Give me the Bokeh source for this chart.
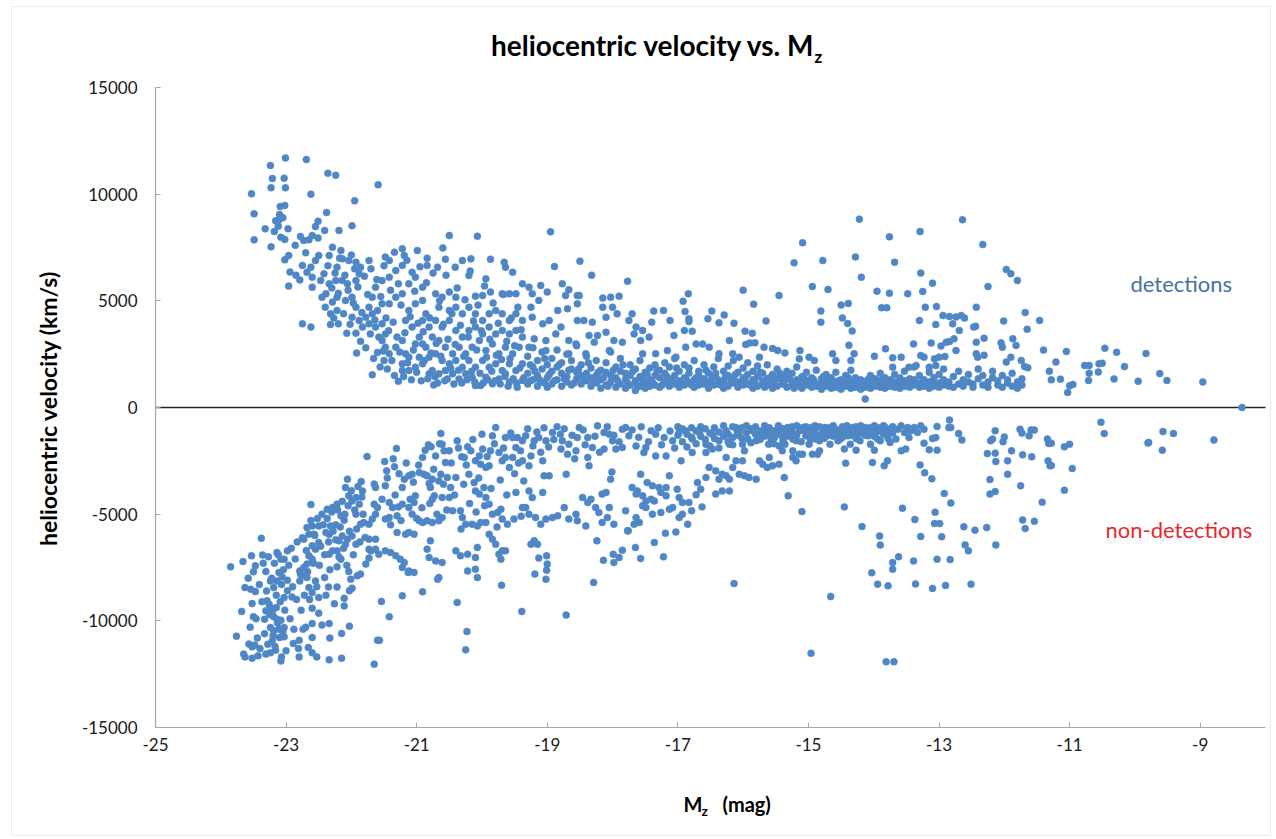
from math import pi
from bokeh.plotting import figure
from bokeh.models import Range1d, Label, FixedTicker, BoxAnnotation
from bokeh.embed import file_html
from bokeh.resources import INLINE

# ---------------- data (M_z [mag], heliocentric velocity [km/s]) ----------------
# detections (positive velocities)
det_bright = [
    (-23.53, 10016), (-23.49, 9078), (-23.49, 7860), (-23.32, 8375), (-23.24, 11344), (-23.21, 10735),
    (-23.23, 10300), (-23.23, 7530), (-23.18, 8250), (-23.16, 8750), (-23.11, 8800), (-23.10, 9050),
    (-23.09, 9420), (-23.03, 10750), (-23.01, 10300), (-23.01, 11700), (-23.08, 7980), (-23.02, 7880),
    (-23.02, 9470), (-23.05, 8900), (-23.12, 8500), (-22.97, 8380), (-23.02, 6920), (-22.96, 7125),
    (-22.94, 6350), (-22.96, 5690), (-22.86, 7600), (-22.69, 11625), (-22.62, 10000), (-22.36, 10985),
    (-22.24, 10890), (-21.59, 10438), (-21.95, 9688), (-22.38, 9140), (-22.51, 8730), (-22.55, 8480),
    (-22.41, 8300), (-22.19, 8300), (-21.99, 8516), (-22.73, 7830), (-22.78, 8020), (-22.65, 7860),
    (-22.60, 8060), (-22.51, 7950), (-22.75, 6660), (-22.68, 6340), (-22.62, 6580), (-22.79, 5980),
    (-22.60, 5640), (-22.55, 6890), (-22.50, 7120), (-22.42, 6270), (-22.47, 5950), (-22.60, 6110),
    (-22.75, 3920), (-22.62, 3770), (-22.32, 3890), (-22.20, 3920), (-22.85, 6200), (-22.70, 7250),
]
det_bright2 = [
    (-22.34, 7125), (-22.29, 7516), (-22.16, 7360), (-22.14, 6970), (-22.22, 6580), (-22.04, 6890),
    (-21.93, 6810), (-21.86, 6580), (-21.73, 6890), (-21.88, 6270), (-21.93, 5950), (-22.06, 5800),
    (-22.14, 5950), (-22.24, 5950), (-22.34, 5800), (-22.39, 5330), (-22.45, 5170), (-22.29, 4940),
    (-22.22, 5170), (-22.32, 4390), (-22.22, 4550), (-22.09, 5020), (-21.99, 5170), (-21.93, 4700),
    (-21.99, 4230), (-21.88, 4080), (-21.78, 4230), (-21.73, 4700), (-21.68, 5170), (-21.63, 5640),
    (-21.53, 5950), (-21.42, 6110), (-21.32, 6420), (-21.42, 6890), (-21.48, 7050), (-21.34, 7280),
    (-21.22, 7440), (-21.19, 7125), (-21.22, 6660), (-21.07, 6340), (-20.99, 7360), (-21.02, 6110),
    (-20.91, 5640), (-21.12, 5800), (-21.22, 5330), (-21.32, 5170), (-21.42, 4860), (-21.53, 4860),
    (-21.60, 4550), (-21.68, 4390), (-21.73, 3920), (-21.83, 3770), (-21.93, 3485), (-22.07, 3485),
    (-21.63, 3770), (-21.53, 3920), (-21.48, 3450), (-21.53, 3140), (-21.48, 2830), (-21.60, 2580),
    (-21.50, 2200), (-21.42, 2520), (-21.32, 2830), (-21.22, 3140), (-21.17, 2520), (-21.22, 2050),
    (-21.12, 2360), (-21.02, 2980), (-20.96, 3300), (-21.07, 3770), (-21.17, 4080), (-21.12, 4550),
    (-21.02, 4860), (-20.91, 5020), (-20.86, 4390), (-20.91, 4080), (-20.81, 3770), (-20.76, 3300),
    (-20.86, 2830), (-20.96, 2360), (-20.91, 2050), (-21.02, 1890), (-21.12, 1730), (-21.22, 1730),
    (-21.28, 1230), (-21.68, 1530), (-21.92, 2550), (-20.91, 2980),
]
det_mid = [
    (-20.50, 8060), (-20.07, 8030), (-20.60, 7480), (-20.84, 7000), (-20.84, 6660), (-20.56, 6950),
    (-20.68, 6580), (-20.41, 6580), (-20.30, 6890), (-20.17, 6970), (-20.20, 6190), (-19.94, 6030),
    (-19.87, 6950), (-19.66, 6810), (-19.64, 6580), (-19.53, 6340), (-19.38, 5800), (-20.10, 5220),
    (-19.99, 5250), (-19.87, 5410), (-19.69, 5330), (-19.58, 5330), (-19.48, 5330), (-20.71, 5330),
    (-20.61, 5170), (-20.50, 5410), (-20.40, 5170), (-20.66, 4700), (-20.50, 4550), (-20.40, 4700),
    (-20.30, 4390), (-20.20, 4700), (-20.10, 4390), (-19.99, 4080), (-19.89, 4390), (-19.79, 4550),
    (-19.69, 4390), (-19.58, 4080), (-19.48, 4390), (-19.38, 4080), (-20.71, 4080), (-20.61, 3770),
    (-20.50, 4080), (-20.40, 3610), (-20.30, 3300), (-20.20, 3610), (-20.10, 3770), (-19.99, 3450),
    (-19.89, 3770), (-19.79, 3450), (-19.69, 3610), (-19.58, 3450), (-19.48, 3610), (-19.38, 3300),
    (-20.66, 3140), (-20.56, 2830), (-20.45, 2520), (-20.35, 2830), (-20.25, 2520), (-20.15, 2830),
    (-20.04, 3140), (-19.94, 2670), (-19.84, 2980), (-19.74, 2520), (-19.64, 2830), (-19.53, 2520),
    (-19.43, 2830), (-20.71, 2520), (-20.61, 2200), (-20.50, 2050), (-20.40, 2200), (-20.30, 1890),
    (-20.20, 2200), (-20.10, 1890), (-19.99, 2200), (-19.89, 1890), (-19.79, 2050), (-19.69, 1730),
    (-19.58, 2050), (-19.48, 1730), (-19.38, 2050), (-20.81, 2360), (-20.76, 1730), (-20.66, 1580),
    (-20.56, 1730), (-20.53, 1340), (-20.45, 1580), (-20.35, 1340), (-20.25, 1580), (-20.15, 1420),
    (-20.10, 1030), (-20.02, 1030), (-19.94, 1420), (-19.84, 1110), (-19.74, 1340), (-19.64, 1580),
    (-19.58, 1190), (-19.46, 950), (-19.38, 1270), (-20.74, 1060), (-20.81, 1580),
]
det_mid2 = [
    (-22.40, 4700), (-22.36, 6650), (-22.30, 5600), (-22.27, 4200), (-22.25, 6300), (-22.20, 5350),
    (-22.18, 7000), (-22.12, 4400), (-22.10, 6200), (-22.05, 5500), (-22.02, 3900), (-22.00, 7150),
    (-21.97, 4900), (-21.95, 6500), (-21.90, 5650), (-21.86, 3100), (-21.84, 4450), (-21.80, 6150),
    (-21.78, 2800), (-21.75, 5300), (-21.71, 3450), (-21.70, 6500), (-21.66, 2300), (-21.64, 4100),
    (-21.61, 6000), (-21.58, 3300), (-21.56, 1900), (-21.55, 5200), (-21.51, 2650), (-21.50, 6650),
    (-21.47, 4200), (-21.45, 1800), (-21.43, 3600), (-21.40, 5500), (-21.38, 2200), (-21.36, 4000),
    (-21.34, 1500), (-21.30, 3300), (-21.28, 5800), (-21.26, 2600), (-21.24, 4800), (-21.20, 1450),
    (-21.18, 3500), (-21.15, 6900), (-21.14, 2100), (-21.10, 4250), (-21.08, 1300), (-21.05, 2700),
    (-21.03, 5450), (-21.00, 1650), (-20.98, 3950), (-20.95, 6600), (-20.93, 1250), (-20.90, 3550),
    (-20.88, 2200), (-20.85, 5850), (-20.83, 1350), (-20.80, 4200), (-20.78, 2550), (-20.75, 6300),
    (-20.72, 1450), (-20.70, 3000), (-20.68, 1150), (-20.65, 5000), (-20.63, 2400), (-20.59, 3900),
    (-20.57, 1250), (-20.55, 6200), (-20.52, 3200), (-20.48, 1850), (-20.46, 4400), (-20.43, 1100),
    (-20.41, 2950), (-20.38, 5600), (-20.36, 1750), (-20.33, 3850), (-20.31, 1150), (-20.28, 2400),
    (-20.26, 5050), (-20.23, 1300), (-20.21, 3300), (-20.18, 6400), (-20.16, 1700), (-20.13, 4050),
    (-20.11, 1200), (-20.08, 2700), (-20.06, 4800), (-20.03, 1600), (-20.01, 3600), (-19.98, 1150),
    (-19.96, 5700), (-19.93, 2350), (-19.91, 1300), (-19.88, 3200), (-19.85, 1700), (-19.83, 4900),
    (-19.80, 1250), (-19.78, 2450), (-19.75, 3950), (-19.72, 1100), (-19.70, 2250), (-19.67, 5300),
    (-19.65, 1450), (-19.62, 3100), (-19.60, 1000), (-19.57, 2300), (-19.55, 4200), (-19.52, 1350),
    (-19.50, 2900), (-19.47, 1150), (-19.45, 4700), (-19.42, 1850), (-19.40, 3650), (-19.36, 1400),
]
det_scatter = [
    (-18.95, 8235), (-18.89, 6610), (-18.50, 6860), (-18.32, 6200), (-17.77, 5920), (-16.00, 5500),
    (-15.84, 4845), (-15.45, 5250), (-15.22, 6780), (-15.09, 7720), (-14.22, 8830), (-14.28, 7060),
    (-14.19, 6110), (-14.78, 6890), (-14.94, 5670), (-14.70, 5530), (-13.76, 8000), (-13.68, 6810),
    (-13.95, 5450), (-13.76, 5360), (-13.88, 4680), (-13.80, 4680), (-14.50, 4800), (-14.39, 4880),
    (-14.48, 4200), (-14.40, 3940), (-14.33, 3590), (-14.38, 2920), (-14.81, 4520), (-14.81, 4000),
    (-15.13, 2670), (-13.82, 2750), (-13.99, 2400), (-13.71, 2330), (-13.71, 1890),
    (-19.28, 5640), (-19.23, 5330), (-19.10, 5720), (-19.00, 5410), (-19.13, 5020), (-19.25, 4700),
    (-19.23, 4230), (-19.07, 3920), (-18.97, 4080), (-18.84, 4550), (-18.77, 5800), (-18.72, 5250),
    (-18.67, 5520), (-18.54, 5250), (-18.51, 5250), (-18.54, 4860), (-18.69, 4630), (-18.54, 4080),
    (-18.44, 4080), (-18.31, 4000), (-18.79, 3770), (-18.87, 3450), (-19.02, 3140), (-19.20, 3220),
    (-19.28, 2830), (-18.67, 3140), (-18.56, 2980), (-18.36, 3380), (-18.23, 3380), (-18.28, 3060),
    (-18.15, 5130), (-18.03, 5170), (-17.90, 5220), (-18.15, 4700), (-18.00, 4700), (-18.10, 4230),
    (-17.93, 4390), (-18.10, 3530), (-17.98, 3140), (-18.05, 2670), (-17.85, 3060), (-17.70, 4390),
    (-17.75, 4080), (-17.64, 3770), (-17.54, 3610), (-17.67, 3450), (-17.57, 3140), (-17.44, 3300),
    (-17.37, 4520), (-17.40, 4000), (-17.22, 4550), (-17.12, 4080), (-17.34, 2520), (-17.16, 2670),
    (-17.06, 3380), (-16.92, 4980), (-16.84, 5330), (-16.89, 4500), (-16.83, 4160), (-16.83, 4030),
    (-16.90, 3610), (-16.78, 3580), (-16.72, 2980), (-16.62, 2980), (-16.54, 4160), (-16.48, 4520),
    (-16.37, 3970), (-16.29, 4340), (-16.14, 3950), (-16.21, 3140), (-16.16, 2520), (-15.97, 3580),
    (-15.86, 3480), (-15.96, 2950), (-15.90, 3020), (-15.82, 3030), (-15.65, 4060), (-15.68, 2830),
    (-15.55, 2770), (-15.47, 2670), (-15.36, 2560), (-15.75, 2360), (-16.06, 2360), (-16.37, 2520),
    (-16.52, 2830), (-16.88, 2830), (-17.03, 2360), (-17.54, 2520), (-18.41, 2520), (-18.67, 2520),
    (-19.02, 2670), (-15.14, 2280), (-14.99, 2360), (-14.91, 2200), (-14.63, 2520), (-14.58, 2200),
    (-14.30, 2520), (-14.35, 2200),
]
det_band = [
    (-19.30, 2400), (-19.30, 1600), (-19.30, 1100), (-19.22, 1900), (-19.22, 1300), (-19.22, 2800),
    (-19.15, 1500), (-19.15, 2200), (-19.15, 1000), (-19.08, 1800), (-19.08, 1200), (-19.08, 2600),
    (-19.00, 1400), (-19.00, 2000), (-19.00, 950), (-18.93, 1700), (-18.93, 1100), (-18.93, 2300),
    (-18.85, 1300), (-18.85, 1900), (-18.85, 2700), (-18.78, 1000), (-18.78, 1600), (-18.78, 2100),
    (-18.70, 1450), (-18.70, 1200), (-18.70, 2500), (-18.63, 1800), (-18.63, 1050), (-18.63, 2200),
    (-18.55, 1350), (-18.55, 1650), (-18.55, 2900), (-18.48, 1100), (-18.48, 2000), (-18.48, 1500),
    (-18.40, 1600), (-18.40, 1250), (-18.40, 2400), (-18.33, 1000), (-18.33, 1850), (-18.33, 1400),
    (-18.25, 1500), (-18.25, 2200), (-18.25, 1150), (-18.18, 1300), (-18.18, 1750), (-18.18, 900),
    (-18.10, 1650), (-18.10, 1050), (-18.10, 2100), (-18.03, 1200), (-18.03, 1500), (-18.03, 2600),
    (-17.95, 1400), (-17.95, 950), (-17.95, 1900), (-17.88, 1100), (-17.88, 1700), (-17.88, 2300),
    (-17.80, 1350), (-17.80, 900), (-17.80, 1600), (-17.73, 1050), (-17.73, 1500), (-17.73, 2000),
    (-17.65, 1250), (-17.65, 800), (-17.65, 1800), (-17.58, 1450), (-17.58, 1000), (-17.58, 2200),
    (-17.50, 1150), (-17.50, 1650), (-17.50, 900), (-17.43, 1300), (-17.43, 1850), (-17.43, 1000),
    (-17.35, 1050), (-17.35, 1500), (-17.35, 2000), (-17.28, 1400), (-17.28, 950), (-17.28, 1750),
    (-17.20, 1200), (-17.20, 1600), (-17.20, 2100), (-17.13, 1000), (-17.13, 1350), (-17.13, 1900),
    (-17.05, 1500), (-17.05, 1100), (-17.05, 2300), (-16.98, 1250), (-16.98, 1700), (-16.98, 950),
    (-16.90, 1400), (-16.90, 1050), (-16.90, 2000), (-16.83, 1150), (-16.83, 1600), (-16.83, 1850),
    (-16.75, 1300), (-16.75, 950), (-16.75, 2200), (-16.68, 1050), (-16.68, 1500), (-16.68, 1700),
    (-16.60, 1350), (-16.60, 1100), (-16.60, 2000), (-16.53, 1200), (-16.53, 900), (-16.53, 1600),
    (-16.45, 1450), (-16.45, 1050), (-16.45, 1900), (-16.38, 1100), (-16.38, 1300), (-16.38, 2300),
    (-16.30, 1250), (-16.30, 900), (-16.30, 1700), (-16.23, 1000), (-16.23, 1500), (-16.23, 1950),
    (-16.15, 1350), (-16.15, 1150), (-16.15, 2200), (-16.08, 1200), (-16.08, 950), (-16.08, 1650),
    (-16.00, 1400), (-16.00, 1050), (-16.00, 1850), (-15.93, 1100), (-15.93, 1550), (-15.93, 2100),
    (-15.85, 1300), (-15.85, 900), (-15.85, 1700), (-15.78, 1000), (-15.78, 1450), (-15.78, 1950),
    (-15.70, 1250), (-15.70, 1100), (-15.70, 1600), (-15.63, 1050), (-15.63, 1350), (-15.63, 2000),
    (-15.55, 1200), (-15.55, 900), (-15.55, 1550), (-15.48, 1350), (-15.48, 1000), (-15.48, 1800),
    (-15.40, 1100), (-15.40, 1250), (-15.40, 1500), (-15.33, 950), (-15.33, 1400), (-15.33, 1700),
    (-15.25, 1200), (-15.25, 1050), (-15.25, 1600), (-15.18, 1000), (-15.18, 1300), (-15.18, 1900),
    (-15.10, 1150), (-15.10, 900), (-15.10, 1450), (-15.03, 1050), (-15.03, 1250), (-15.03, 1650),
    (-14.95, 1200), (-14.95, 950), (-14.95, 1400), (-14.88, 1000), (-14.88, 1100), (-14.88, 1750),
    (-14.80, 1150), (-14.80, 850), (-14.80, 1350), (-14.73, 1000), (-14.73, 1250), (-14.73, 1550),
    (-14.65, 1100), (-14.65, 900), (-14.65, 1400), (-14.58, 950), (-14.58, 1200), (-14.58, 1650),
    (-14.50, 1050), (-14.50, 850), (-14.50, 1300), (-14.43, 1150), (-14.43, 1000), (-14.43, 1500),
    (-14.35, 900), (-14.35, 1250), (-14.35, 1750), (-14.28, 1050), (-14.28, 950), (-14.28, 1400),
    (-14.20, 1100), (-14.20, 850), (-14.20, 1300), (-14.13, 950), (-14.13, 1200), (-14.13, 400),
    (-14.05, 1050), (-14.05, 900), (-14.05, 1500), (-13.98, 1150), (-13.98, 1000), (-13.98, 1350),
    (-13.90, 950), (-13.90, 1250), (-13.90, 1600), (-13.83, 1050), (-13.83, 900), (-13.83, 1400),
    (-13.75, 1100), (-13.75, 1000), (-13.75, 1300), (-13.68, 950), (-13.68, 1200), (-13.68, 1550),
    (-13.60, 1100), (-13.60, 900), (-13.60, 1400), (-13.53, 1000), (-13.53, 1250), (-13.53, 1700),
    (-13.45, 1150), (-13.45, 950), (-13.45, 1350), (-13.38, 1050), (-13.38, 1300), (-13.38, 1900),
    (-13.30, 950), (-13.30, 1150), (-13.30, 1500), (-13.23, 1100), (-13.23, 1000), (-13.23, 1300),
    (-13.15, 1200), (-13.15, 900), (-13.15, 1650), (-13.08, 1000), (-13.08, 1400), (-13.08, 1100),
    (-13.00, 1150), (-13.00, 950), (-13.00, 1550), (-12.93, 1050), (-12.93, 1300), (-12.93, 1800),
    (-12.85, 1200), (-12.85, 1000), (-12.78, 950), (-12.78, 1450), (-12.70, 1100), (-12.70, 1700),
    (-12.63, 1000), (-12.63, 1300), (-12.55, 1200), (-12.55, 1550), (-12.48, 950), (-12.48, 1100),
    (-12.40, 1350), (-12.40, 1800), (-12.33, 1050), (-12.33, 1500), (-12.25, 1200), (-12.25, 950),
    (-12.18, 1400), (-12.18, 1700), (-12.10, 1050), (-12.10, 1250), (-12.03, 1500), (-12.03, 950),
    (-11.95, 1150), (-11.95, 1300), (-11.88, 1000), (-11.88, 1600), (-11.80, 1200), (-11.80, 900),
    (-11.73, 1350), (-11.73, 1050),
]
det_band2 = [
    (-19.26, 1250), (-19.26, 2000), (-19.19, 1700), (-19.12, 1300), (-19.04, 2300), (-19.04, 1150),
    (-18.97, 1550), (-18.89, 1250), (-18.82, 2000), (-18.74, 1350), (-18.67, 1750), (-18.59, 1150),
    (-18.52, 1800), (-18.44, 1350), (-18.37, 2100), (-18.29, 1250), (-18.22, 1650), (-18.14, 1400),
    (-18.07, 1000), (-17.99, 1750), (-17.92, 1250), (-17.84, 2000), (-17.77, 1150), (-17.69, 1700),
    (-17.62, 1050), (-17.54, 1300), (-17.47, 1550), (-17.39, 1200), (-17.32, 1750), (-17.24, 1050),
    (-17.17, 1450), (-17.09, 1250), (-17.02, 1850), (-16.94, 1100), (-16.87, 1300), (-16.79, 1050),
    (-16.72, 1400), (-16.64, 1200), (-16.57, 1750), (-16.49, 1300), (-16.42, 1600), (-16.34, 1050),
    (-16.27, 1450), (-16.19, 1200), (-16.12, 1550), (-16.04, 1150), (-15.97, 1300), (-15.89, 1050),
    (-15.82, 1200), (-15.74, 1650), (-15.67, 950), (-15.59, 1400), (-15.52, 1100), (-15.44, 1600),
    (-15.37, 1200), (-15.29, 1350), (-15.22, 900), (-15.14, 1250), (-15.07, 1400), (-14.99, 1100),
    (-14.92, 1300), (-14.84, 1000), (-14.77, 1450), (-14.69, 1200), (-14.62, 1050), (-14.54, 1250),
    (-14.47, 1150), (-14.39, 1400), (-14.32, 1100), (-14.24, 1250), (-14.17, 1000), (-14.09, 1300),
    (-14.02, 1200), (-13.94, 1100), (-13.87, 1300), (-13.79, 1150), (-13.72, 1000),
]
det_faint = [
    (-12.64, 8800), (-13.29, 8250), (-12.33, 7640), (-11.97, 6470), (-11.90, 6270), (-11.80, 5950),
    (-12.25, 5670), (-13.28, 6300), (-13.10, 5830), (-13.25, 5440), (-13.48, 5330), (-13.21, 4700),
    (-13.04, 4730), (-12.43, 4700), (-13.30, 4080), (-13.05, 3890), (-12.94, 4310), (-12.84, 4270),
    (-12.74, 4240), (-12.66, 4310), (-12.61, 4190), (-12.79, 3920), (-12.69, 3610), (-12.47, 3770),
    (-12.44, 3810), (-12.01, 4050), (-11.68, 4450), (-11.65, 3670), (-11.46, 4080), (-13.39, 2980),
    (-13.12, 3020), (-12.97, 2880), (-12.89, 3060), (-12.84, 3090), (-12.77, 3220), (-12.31, 3250),
    (-12.43, 3060), (-12.05, 3030), (-12.03, 2830), (-11.87, 3220), (-11.82, 2910), (-12.74, 2670),
    (-13.00, 2360), (-12.91, 2390), (-13.07, 2280), (-12.43, 2520), (-12.41, 2360), (-12.31, 2450),
    (-11.97, 2130), (-11.90, 2360), (-11.74, 2200), (-11.69, 1920), (-11.64, 1860), (-11.40, 2690),
    (-11.21, 2130), (-11.05, 2630), (-10.77, 1970), (-10.70, 1970), (-10.55, 2050), (-10.50, 2080),
    (-10.46, 2780), (-10.28, 2590), (-10.16, 1920), (-9.83, 2530), (-10.70, 1610), (-10.56, 1660),
    (-10.32, 1340), (-9.95, 1230), (-9.62, 1590), (-9.51, 1270), (-8.96, 1200), (-11.31, 1700),
    (-11.28, 1300), (-11.14, 1330), (-11.00, 1020), (-10.95, 1080), (-11.03, 700), (-10.71, 1270),
    (-13.58, 2360), (-13.46, 1890), (-13.35, 1970), (-13.28, 2440), (-13.23, 2360), (-13.15, 1890),
    (-13.05, 1970), (-8.36, 0),
]

# non-detections (negative velocities)
non_bright = [
    (-23.85, -7470), (-23.66, -7220), (-23.76, -10720), (-23.68, -9560), (-23.63, -8440), (-23.54, -8520),
    (-23.47, -8630), (-23.53, -6950), (-23.38, -6130), (-23.47, -7420), (-23.36, -6910), (-23.52, -9190),
    (-23.50, -9810), (-23.57, -11090), (-23.52, -11220), (-23.48, -11130), (-23.65, -11560), (-23.63, -11690),
    (-23.52, -11750), (-23.43, -11640), (-23.31, -11560), (-23.24, -11500), (-23.16, -11380), (-23.08, -11880),
    (-23.07, -11690), (-23.21, -10940), (-23.24, -10310), (-23.19, -10470), (-23.11, -10390), (-23.06, -10440),
    (-23.03, -10310), (-23.10, -10780), (-23.03, -10750), (-23.31, -9530), (-23.26, -9220), (-23.24, -9380),
    (-23.21, -9560), (-23.29, -9060), (-23.19, -9810), (-23.15, -9380), (-23.33, -9920), (-23.14, -9920),
    (-23.08, -9970), (-23.31, -7690), (-23.24, -8130), (-23.19, -8440), (-23.14, -8130), (-23.06, -7940),
    (-23.11, -7730), (-23.03, -7110), (-22.98, -6720), (-23.08, -7110), (-23.14, -6800), (-23.03, -8910),
    (-22.98, -8590), (-22.91, -8880), (-22.89, -11060), (-22.80, -10910), (-22.74, -10390), (-22.80, -11690),
    (-22.66, -11250), (-22.60, -10130), (-22.60, -10780), (-22.53, -11690), (-22.79, -7660), (-22.73, -7500),
    (-22.68, -7340), (-22.65, -6950), (-22.60, -7110), (-22.55, -6640), (-22.50, -6330), (-22.60, -6480),
    (-22.57, -5940), (-22.65, -5940), (-22.73, -6170), (-22.68, -5630), (-22.60, -5560), (-22.50, -5550),
    (-22.79, -8130), (-22.75, -7890), (-22.68, -7970), (-22.65, -8440), (-22.60, -8670), (-22.55, -8130),
    (-22.50, -8910), (-22.60, -9410), (-22.50, -9640), (-22.41, -7970), (-22.35, -8410), (-22.22, -8410),
    (-22.45, -5000), (-22.37, -4770), (-22.29, -4690), (-22.22, -4530), (-22.16, -5080), (-22.11, -5280),
    (-22.24, -5500), (-22.32, -5550), (-22.39, -5860), (-22.34, -5940), (-22.62, -4550),
]
non_bright2 = [
    (-22.06, -3360), (-22.09, -3750), (-22.04, -4140), (-21.99, -4380), (-21.88, -4530), (-21.93, -4220),
    (-21.83, -3910), (-21.85, -3470), (-21.93, -5000), (-21.86, -5470), (-21.81, -5390), (-21.73, -5470),
    (-21.68, -5230), (-21.63, -5000), (-21.65, -4530), (-21.60, -4690), (-22.14, -6020), (-22.06, -6170),
    (-21.99, -6020), (-21.93, -6410), (-22.09, -6410), (-22.19, -6250), (-22.34, -6880), (-22.29, -6720),
    (-22.22, -6720), (-22.16, -7110), (-22.22, -7470), (-22.04, -7690), (-22.01, -8050), (-21.91, -7890),
    (-21.86, -7810), (-21.78, -7340), (-21.73, -7060), (-21.70, -6720), (-22.11, -8940), (-22.11, -9300),
    (-22.03, -8590), (-21.99, -8470), (-22.34, -10130), (-22.33, -10810), (-22.15, -10590), (-22.03, -10250),
    (-22.34, -11830), (-22.15, -11750), (-21.76, -2300), (-21.65, -3590), (-21.63, -3750), (-21.48, -3670),
    (-21.46, -2970), (-21.49, -2530), (-21.34, -2780), (-21.31, -1920), (-21.53, -4300), (-21.42, -4450),
    (-21.37, -4690), (-21.28, -4660), (-21.30, -5080), (-21.42, -5160), (-21.48, -5230), (-21.73, -6170),
    (-21.63, -6170), (-21.79, -6090), (-21.63, -6640), (-21.73, -6640), (-21.58, -6880), (-21.48, -6720),
    (-21.40, -6800), (-21.32, -6950), (-21.25, -7110), (-21.19, -7270), (-21.22, -7500), (-21.12, -7660),
    (-21.04, -7730), (-21.13, -7730), (-21.54, -9090), (-21.42, -9810), (-21.60, -10910), (-21.57, -10910),
    (-21.65, -12030), (-21.22, -8830), (-20.91, -8640),
]
non_bright3 = [
    (-23.58, -8000), (-23.55, -10300), (-23.50, -7700), (-23.46, -9900), (-23.44, -10800), (-23.41, -8300),
    (-23.40, -11300), (-23.37, -9100), (-23.35, -7300), (-23.33, -10600), (-23.30, -8600), (-23.28, -11100),
    (-23.27, -7000), (-23.25, -9700), (-23.22, -8000), (-23.20, -10700), (-23.18, -7300), (-23.17, -11200),
    (-23.15, -8800), (-23.13, -10100), (-23.12, -6900), (-23.09, -9100), (-23.07, -8300), (-23.05, -10500),
    (-23.04, -7600), (-23.02, -9500), (-23.00, -11400), (-22.98, -8100), (-22.96, -7400), (-22.94, -9900),
    (-22.92, -6600), (-22.90, -8400), (-22.88, -10400), (-22.86, -7100), (-22.84, -9000), (-22.83, -6300),
    (-22.81, -11300), (-22.78, -7800), (-22.77, -9500), (-22.75, -6100), (-22.72, -8800), (-22.70, -10300),
    (-22.69, -6700), (-22.67, -7700), (-22.64, -9000), (-22.62, -5300), (-22.60, -11500), (-22.58, -7300),
    (-22.56, -6000), (-22.53, -8400), (-22.52, -5200), (-22.49, -7400), (-22.47, -6500), (-22.45, -10200),
    (-22.43, -5500), (-22.41, -6900), (-22.39, -8800), (-22.37, -5200), (-22.35, -6300), (-22.33, -7600),
    (-22.30, -4900), (-22.28, -5800), (-22.26, -9200), (-22.24, -6200), (-22.21, -4800), (-22.19, -7000),
    (-22.17, -5600), (-22.14, -4400), (-22.12, -6600), (-22.10, -5000), (-22.07, -7400), (-22.05, -4600),
    (-22.03, -5800), (-22.00, -3900), (-21.97, -6900), (-21.95, -4800), (-21.92, -5700), (-21.90, -3700),
    (-21.87, -6300), (-21.84, -4200), (-21.82, -5000),
    (-21.45, -3300), (-21.40, -5500), (-21.36, -2400), (-21.33, -4100), (-21.27, -3100), (-21.24, -5300),
    (-21.16, -2600), (-21.10, -4300), (-21.05, -3500), (-21.00, -5200), (-20.97, -2700), (-20.92, -4700),
    (-20.87, -2000), (-20.80, -4500), (-20.74, -2900), (-20.69, -5000), (-20.65, -1700), (-20.59, -3600),
    (-20.54, -4800), (-20.47, -2600), (-20.42, -4100), (-20.36, -1900), (-20.32, -5700), (-20.28, -3600),
    (-20.24, -2700), (-20.19, -4500), (-20.14, -1500), (-20.09, -4900), (-20.05, -3300), (-20.00, -1250),
    (-19.96, -4600), (-19.92, -2300), (-19.86, -3800), (-19.81, -1700), (-19.77, -5600), (-19.72, -3400),
    (-19.67, -1900), (-19.62, -4100), (-19.56, -1200), (-19.50, -3100), (-19.44, -2600), (-19.40, -5100),
]
non_mid = [
    (-21.22, -3750), (-21.19, -3360), (-21.12, -3200), (-21.07, -3130), (-20.96, -3050), (-20.89, -3130),
    (-20.84, -3200), (-20.76, -3360), (-20.81, -3560), (-21.22, -4530), (-21.12, -4690), (-21.04, -4450),
    (-21.02, -4140), (-21.07, -5000), (-20.96, -5310), (-20.91, -5390), (-20.84, -5310), (-20.76, -5390),
    (-20.66, -5310), (-20.61, -5160), (-21.12, -5860), (-21.30, -5860), (-21.17, -5940), (-21.04, -5940),
    (-20.91, -2340), (-20.82, -1750), (-20.78, -1840), (-20.71, -2270), (-20.63, -1220), (-20.61, -1720),
    (-20.58, -2030), (-20.50, -2030), (-20.56, -2580), (-20.38, -1560), (-20.31, -2310), (-20.27, -2340),
    (-20.22, -1840), (-20.17, -2030), (-20.63, -3130), (-20.66, -3440), (-20.53, -3280), (-20.40, -3280),
    (-20.48, -3750), (-20.61, -4220), (-20.50, -4220), (-20.79, -3750), (-20.73, -4140), (-20.76, -4300),
    (-20.45, -4840), (-20.33, -4840), (-20.30, -5160), (-20.25, -5470), (-20.15, -5470), (-20.07, -5550),
    (-20.02, -5390), (-19.94, -5390), (-20.79, -6250), (-20.84, -6640), (-20.81, -7030), (-20.71, -7190),
    (-20.61, -7270), (-20.66, -7970), (-20.68, -8050), (-20.40, -6720), (-20.33, -6950), (-20.22, -6880),
    (-20.10, -7030), (-20.07, -6560), (-20.22, -7660), (-20.10, -7580), (-20.07, -7970), (-20.38, -9140),
    (-20.23, -10500), (-20.25, -11360), (-20.10, -2500), (-20.04, -2270), (-19.99, -1950), (-20.02, -2660),
    (-19.94, -2810), (-19.89, -2730), (-19.87, -2030), (-19.79, -940), (-19.84, -1330), (-19.74, -2110),
    (-19.64, -1410), (-19.53, -1410), (-19.46, -1410), (-19.38, -1560), (-19.48, -1880), (-19.41, -2030),
    (-19.38, -2500), (-19.53, -2340), (-19.64, -2340), (-19.69, -2500), (-19.58, -2810), (-20.20, -3130),
    (-20.12, -3520), (-20.10, -3910), (-20.04, -4060), (-19.94, -4220), (-19.97, -3750), (-19.89, -4530),
    (-19.84, -5000), (-19.76, -4920), (-19.71, -4770), (-19.69, -5230), (-19.61, -5470), (-19.51, -5230),
    (-19.48, -3980), (-19.38, -4690), (-19.89, -5940), (-19.84, -6170), (-19.79, -6410), (-19.74, -6880),
    (-19.71, -7110), (-19.69, -6720), (-19.64, -6720), (-19.70, -8330), (-19.39, -9560), (-19.36, -3440),
]
non_band = [
    (-19.33, -1330), (-19.20, -1560), (-19.13, -1410), (-19.25, -2270), (-19.28, -2730), (-19.07, -2500),
    (-19.02, -1560), (-18.92, -1170), (-18.77, -1560), (-18.79, -1950), (-18.69, -2190), (-18.67, -1720),
    (-18.56, -2030), (-18.54, -1410), (-18.51, -940), (-18.38, -1410), (-18.38, -2340), (-18.36, -2730),
    (-18.31, -1880), (-18.23, -860), (-18.13, -1170), (-18.13, -1950), (-18.05, -1250), (-18.00, -1560),
    (-17.95, -1950), (-17.85, -1020), (-17.85, -1880), (-17.80, -940), (-17.75, -1330), (-17.64, -1800),
    (-17.52, -2110), (-17.49, -1880), (-17.41, -1090), (-17.34, -1250), (-17.34, -2270), (-17.21, -1410),
    (-17.18, -2270), (-17.08, -1560), (-16.98, -1170), (-16.95, -2500), (-16.88, -1090), (-16.78, -1480),
    (-16.78, -2110), (-16.67, -1170), (-16.57, -1720), (-16.57, -2110), (-16.47, -1250), (-16.47, -1950),
    (-16.37, -1560), (-16.26, -1090), (-16.16, -1410), (-16.06, -1170), (-16.01, -1720), (-15.93, -1480),
    (-15.86, -1090), (-15.75, -1330), (-15.65, -1020), (-15.57, -1480), (-15.50, -1090), (-15.40, -1330),
    (-15.32, -940), (-15.24, -1480), (-15.14, -1090), (-15.04, -1330), (-14.96, -940), (-14.89, -1480),
    (-14.78, -1090), (-14.71, -1330), (-14.63, -940), (-14.55, -1560), (-14.48, -1090), (-14.40, -1330),
    (-14.32, -940), (-14.25, -1480), (-14.17, -1090), (-14.09, -1330), (-14.02, -940), (-13.94, -1480),
    (-13.86, -1090), (-13.79, -1330), (-13.71, -1020), (-16.21, -1720), (-16.11, -940), (-15.98, -2030),
    (-15.80, -1560), (-15.70, -1170), (-15.61, -1720), (-15.52, -1410), (-15.45, -940), (-15.36, -1720),
    (-15.27, -1170), (-15.19, -1560), (-15.09, -940), (-14.99, -1720), (-14.93, -1170), (-14.83, -1560),
    (-14.75, -940), (-14.67, -1720), (-14.59, -1170), (-14.51, -1480), (-14.44, -1020), (-14.36, -1720),
    (-14.28, -1170), (-14.21, -1560), (-14.13, -940), (-14.05, -1720), (-13.97, -1170), (-13.90, -1560),
    (-13.82, -940), (-13.75, -1640), (-16.26, -2340), (-16.11, -2500), (-16.01, -2500), (-15.75, -2500),
    (-15.70, -2660), (-15.63, -2810), (-15.55, -2730), (-15.45, -2660), (-14.43, -2610), (-14.02, -2580),
    (-13.84, -2730), (-13.79, -2500), (-14.27, -2000), (-13.99, -2000), (-14.45, -1950), (-14.94, -2190),
    (-14.86, -2190), (-14.83, -2030), (-15.24, -2340), (-15.19, -2500), (-15.14, -2190), (-15.09, -2190),
    (-15.24, -2030), (-15.40, -2030), (-15.45, -1800), (-15.60, -2340),
]
non_band2 = [
    (-17.00, -1300), (-17.00, -900), (-16.93, -1600), (-16.93, -1000), (-16.86, -1250), (-16.86, -1850),
    (-16.79, -950), (-16.79, -1400), (-16.72, -1700), (-16.72, -1100), (-16.65, -1350), (-16.65, -900),
    (-16.58, -1500), (-16.58, -1000), (-16.51, -1200), (-16.51, -1800), (-16.44, -950), (-16.44, -1450),
    (-16.37, -1150), (-16.37, -1900), (-16.30, -1350), (-16.30, -850), (-16.23, -1250), (-16.23, -1600),
    (-16.16, -900), (-16.16, -1750), (-16.09, -1300), (-16.09, -1100), (-16.02, -950), (-16.02, -1450),
    (-15.95, -1200), (-15.95, -850), (-15.88, -1650), (-15.88, -1000), (-15.81, -1250), (-15.81, -900),
    (-15.74, -1500), (-15.74, -1100), (-15.67, -850), (-15.67, -1350), (-15.60, -1200), (-15.60, -950),
    (-15.53, -1100), (-15.53, -1700), (-15.46, -850), (-15.46, -1250), (-15.39, -1000), (-15.39, -1550),
    (-15.32, -1200), (-15.32, -1350), (-15.25, -900), (-15.25, -1150), (-15.18, -1300), (-15.18, -850),
    (-15.11, -1050), (-15.11, -1600), (-15.04, -900), (-15.04, -1150), (-14.97, -1250), (-14.97, -1500),
    (-14.90, -850), (-14.90, -1050), (-14.83, -1300), (-14.83, -900), (-14.76, -1150), (-14.76, -1450),
    (-14.69, -950), (-14.69, -1200), (-14.62, -1350), (-14.62, -850), (-14.55, -1050), (-14.55, -1250),
    (-14.48, -900), (-14.48, -1400), (-14.41, -1150), (-14.41, -850), (-14.34, -1050), (-14.34, -1300),
    (-14.27, -900), (-14.27, -1450), (-14.20, -1200), (-14.20, -850), (-14.13, -1050), (-14.13, -1300),
    (-14.06, -950), (-14.06, -1200), (-13.99, -850), (-13.99, -1350), (-13.92, -1100), (-13.92, -950),
    (-13.85, -1250), (-13.85, -850), (-13.78, -1050), (-13.78, -1450), (-13.71, -900), (-13.71, -1200),
    (-19.30, -1000), (-19.22, -1800), (-19.16, -1150), (-19.10, -2100), (-19.05, -950), (-18.98, -1850),
    (-18.90, -1500), (-18.85, -900), (-18.80, -1250), (-18.74, -1000), (-18.62, -1300), (-18.58, -2400),
    (-18.45, -1050), (-18.42, -1750), (-18.27, -1350), (-18.20, -2100), (-18.08, -900), (-17.98, -1300),
    (-17.90, -1600), (-17.70, -1050), (-17.60, -1400), (-17.56, -900), (-17.45, -1600), (-17.30, -950),
    (-17.25, -1750), (-17.12, -1100), (-17.05, -1900),
]
non_scatter = [
    (-15.37, -3280), (-15.31, -4140), (-15.10, -4880), (-14.45, -4660), (-14.18, -5580), (-13.91, -6020),
    (-13.90, -6450), (-13.71, -7270), (-13.71, -7580), (-14.03, -7750), (-13.94, -8280), (-13.78, -8360),
    (-14.66, -8860), (-14.96, -11520), (-13.81, -11920), (-13.69, -11920),
    (-19.05, -3200), (-18.97, -3200), (-18.71, -3130), (-18.03, -3360), (-18.01, -3020), (-17.57, -3130),
    (-17.47, -3520), (-17.39, -3670), (-17.29, -3750), (-17.13, -3200), (-17.01, -3830), (-17.70, -3750),
    (-17.62, -3910), (-17.18, -3750), (-17.26, -3980), (-17.18, -4140), (-19.28, -3910), (-19.23, -4220),
    (-19.07, -3980), (-18.46, -4220), (-18.38, -4450), (-18.33, -4300), (-18.16, -4060), (-18.10, -3980),
    (-17.80, -4840), (-17.64, -4060), (-17.54, -4140), (-17.49, -4380), (-17.41, -4300), (-17.36, -4380),
    (-16.98, -4220), (-16.93, -4450), (-16.83, -4450), (-16.72, -4090), (-16.65, -3830), (-16.70, -3520),
    (-16.57, -3280), (-16.52, -2810), (-16.42, -2970), (-16.37, -3360), (-16.32, -3130), (-16.26, -3200),
    (-16.21, -3360), (-16.32, -3910), (-16.42, -4060), (-16.21, -3910), (-16.16, -2810), (-16.06, -3130),
    (-15.98, -3200), (-15.91, -3280), (-15.80, -3360), (-19.33, -4690), (-19.28, -5000), (-19.18, -5160),
    (-19.10, -5470), (-19.02, -5230), (-18.92, -5160), (-18.84, -5080), (-18.74, -4690), (-18.67, -5230),
    (-18.56, -5000), (-18.54, -5310), (-18.41, -5550), (-18.26, -4690), (-18.21, -4920), (-18.16, -5390),
    (-18.05, -4690), (-17.98, -5470), (-18.08, -5160), (-17.77, -5780), (-17.67, -5470), (-17.59, -5390),
    (-17.64, -5160), (-17.54, -4610), (-17.49, -4690), (-17.39, -5000), (-17.26, -4920), (-17.13, -4770),
    (-17.08, -4690), (-16.98, -5160), (-16.93, -5000), (-16.85, -5470), (-16.79, -4840), (-16.63, -4660),
    (-19.25, -6410), (-19.15, -6410), (-19.20, -6250), (-19.13, -7060), (-19.01, -6950), (-19.00, -7340),
    (-19.01, -7630), (-19.02, -8050), (-19.19, -7810), (-18.71, -9730), (-18.29, -8200), (-18.24, -6250),
    (-18.14, -7160), (-17.99, -6880), (-17.98, -7270), (-17.90, -7030), (-17.85, -6690), (-17.65, -6560),
    (-17.57, -7080), (-17.36, -6330), (-17.22, -7000), (-17.19, -5890), (-17.03, -5840), (-17.76, -5780),
    (-16.14, -8250),
]
non_faint = [
    (-13.63, -1020), (-13.58, -860), (-13.53, -1170), (-13.48, -940), (-13.43, -1090), (-13.38, -940),
    (-13.33, -1170), (-13.28, -860), (-13.23, -1020), (-13.46, -1410), (-13.66, -1480), (-12.84, -590),
    (-12.85, -940), (-12.82, -940), (-12.70, -1220), (-12.65, -1520), (-13.03, -890), (-13.05, -1410),
    (-13.10, -1450), (-13.23, -1670), (-13.15, -1980), (-13.03, -2000), (-13.51, -1950), (-13.58, -2030),
    (-12.14, -1090), (-12.18, -1480), (-12.21, -1560), (-12.00, -1380), (-12.02, -1610), (-11.76, -1020),
    (-11.73, -1200), (-11.62, -1330), (-11.59, -1050), (-11.54, -1060), (-11.34, -1480), (-11.32, -1690),
    (-11.08, -1840), (-11.00, -1720), (-10.52, -690), (-10.47, -1220), (-9.79, -1640), (-9.57, -1130),
    (-9.58, -2000), (-9.41, -1220), (-8.79, -1520), (-12.26, -2160), (-12.14, -2140), (-12.13, -2530),
    (-11.95, -2500), (-11.89, -2030), (-11.72, -2220), (-11.58, -2310), (-11.33, -2500), (-11.30, -2730),
    (-10.96, -2860), (-11.95, -3130), (-13.29, -2690), (-13.22, -3060), (-13.11, -3340), (-12.22, -3380),
    (-12.22, -4060), (-12.14, -3940), (-11.75, -3670), (-11.08, -3880), (-11.42, -4440), (-12.92, -4030),
    (-12.82, -4480), (-13.56, -4720), (-13.06, -4910), (-13.37, -5250), (-13.07, -5440), (-12.99, -5440),
    (-12.62, -5590), (-12.45, -5750), (-12.27, -5630), (-11.72, -5270), (-11.68, -5670), (-11.54, -5330),
    (-13.28, -6050), (-12.96, -6060), (-12.60, -6440), (-12.55, -6720), (-12.13, -6440), (-13.62, -7000),
    (-13.39, -7190), (-13.03, -7110), (-12.83, -7130), (-13.36, -8270), (-13.10, -8480), (-12.90, -8340),
    (-12.51, -8280), (-11.28, -1670), (-11.28, -2720), (-9.80, -1660),
]

x_ticks = [-25, -23, -21, -19, -17, -15, -13, -11, -9]
y_ticks = [-15000, -10000, -5000, 0, 5000, 10000, 15000]
x_lo, x_hi = -25, -8
y_lo, y_hi = -15000, 15000

# ---------------- layout: plot area placed inside the full canvas ----------------
W, H = 1276, 839
FL, FR, FT, FB = 155, 1265, 87, 727          # pixel edges of the data area
sx = (FR - FL) / (x_hi - x_lo)
sy = (FB - FT) / (y_hi - y_lo)
xr = Range1d(x_lo - FL / sx, x_hi + (W - FR) / sx)
yr = Range1d(y_lo - (H - FB) / sy, y_hi + FT / sy)

p = figure(width=W, height=H, output_backend="svg", toolbar_location=None, title=None,
           x_range=xr, y_range=yr, min_border=0)
p.background_fill_color = "white"
p.border_fill_color = "white"
p.outline_line_color = None
p.grid.visible = False

axis_gray = "#a6a6a6"
for ax in (p.xaxis[0], p.yaxis[0]):
    ax.axis_line_color = axis_gray
    ax.axis_line_width = 1.2
    ax.major_tick_line_color = axis_gray
    ax.major_tick_in = 5
    ax.major_tick_out = 0
    ax.minor_tick_line_color = None
    ax.major_label_text_font = "Lato"
    ax.major_label_text_font_size = "17px"
    ax.major_label_text_color = "#1a1a1a"
p.xaxis.fixed_location = y_lo
p.yaxis.fixed_location = x_lo
p.xaxis.bounds = (x_lo, x_hi)
p.yaxis.bounds = (y_lo, y_hi)
p.xaxis.ticker = FixedTicker(ticks=x_ticks)
p.yaxis.ticker = FixedTicker(ticks=y_ticks)
p.xaxis.major_label_overrides = {t: str(t) for t in x_ticks}
p.yaxis.major_label_overrides = {t: str(t) for t in y_ticks}
p.xaxis.major_label_standoff = 10
p.yaxis.major_label_standoff = 18

# zero line
p.segment(x0=[x_lo], y0=[0], x1=[x_hi], y1=[0], line_color="#262626", line_width=1.6)

def unzip(pts):
    return [a for a, b in pts], [b for a, b in pts]

det = det_bright + det_bright2 + det_mid + det_mid2 + det_scatter + det_band + det_band2 + det_faint
non = non_bright + non_bright2 + non_bright3 + non_mid + non_band + non_band2 + non_scatter + non_faint
dx, dy = unzip(det)
nx, ny = unzip(non)
col = "#4F86C6"
p.scatter(dx, dy, size=7, fill_color=col, line_color=col, line_width=0.5)
p.scatter(nx, ny, size=7, fill_color=col, line_color=col, line_width=0.5)

# texts (screen units: canvas x, canvas height - canvas y)
def lab(x, cy, text, size, bold=False, color="#000000", align="left", angle=0.0):
    p.add_layout(Label(x=x, y=H - cy, x_units="screen", y_units="screen", text=text,
                       text_font="Lato", text_font_size=size, text_color=color,
                       text_font_style="bold" if bold else "normal",
                       text_align=align, text_baseline="middle", angle=angle))

lab(815, 44, "heliocentric velocity vs. M", "28px", bold=True, align="right")
lab(814, 56, "z", "17px", bold=True)
lab(47, 405, "heliocentric velocity  (km/s)", "23px", bold=True, align="center", angle=pi / 2)
lab(683, 803, "M", "20px", bold=True)
lab(701, 810, "z", "14px", bold=True)
lab(722, 803, "(mag)", "20px", bold=True)
lab(1130, 283, "detections", "22px", color="#4470a8")
lab(1105, 529, "non-detections", "22px", color="#e8282a")

p.add_layout(BoxAnnotation(left=11, right=1270, top=H - 6, bottom=H - 835,
                           left_units="screen", right_units="screen", top_units="screen", bottom_units="screen",
                           fill_alpha=0, line_color="#c4c4c4", line_width=1))

open("out.html", "w").write(file_html(p, INLINE))
